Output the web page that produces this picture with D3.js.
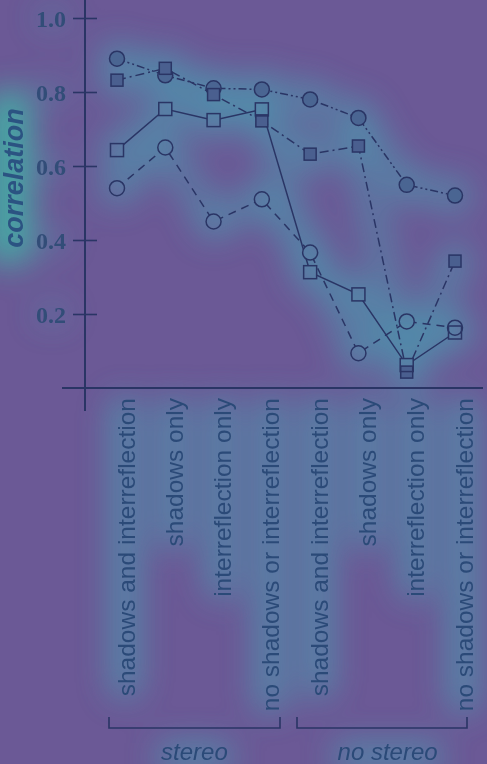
<!DOCTYPE html>
<html>
<head>
<meta charset="utf-8">
<script src="https://cdn.jsdelivr.net/npm/d3@7"></script>
<style>
html,body{margin:0;padding:0;background:#6b5996;}
svg{display:block;}
</style>
</head>
<body>
<script>
const categories = [
  "shadows and interreflection","shadows only","interreflection only","no shadows or interreflection",
  "shadows and interreflection ","shadows only ","interreflection only ","no shadows or interreflection "
];
const filledCircles = [0.89, 0.845, 0.81, 0.807, 0.78, 0.73, 0.549, 0.52];
const filledSquares = [0.832, 0.864, 0.793, 0.722, 0.632, 0.654, 0.043, 0.343];
const openSquares   = [0.643, 0.754, 0.724, 0.753, 0.313, 0.253, 0.062, 0.15];
const openCircles   = [0.54, 0.65, 0.45, 0.51, 0.366, 0.094, 0.18, 0.163];
const yTicks = [0.2, 0.4, 0.6, 0.8, 1.0];
const groups = [
  {label:"stereo", from:0, to:3},
  {label:"no stereo", from:4, to:7}
];
const series = [
  {name:"fc", values:filledCircles, shape:"circle", filled:true,  dash:"8,3,2,3,2,3"},
  {name:"oc", values:openCircles,   shape:"circle", filled:false, dash:"8,6"},
  {name:"fs", values:filledSquares, shape:"square", filled:true,  dash:"9,4,2,4"},
  {name:"os", values:openSquares,   shape:"square", filled:false, dash:null}
];

const W = 487, H = 764;
const ink = "#2a3565";
const textInk = "#2b4a78";
const glowColor = "#4f94ae";
const bg = "#6b5996";

const svg = d3.select("body").append("svg").attr("width", W).attr("height", H);
const defs = svg.append("defs");

const x = d3.scalePoint().domain(categories).range([117, 455]);
const y = d3.scaleLinear().domain([0, 1]).range([388, 18]);

const flt = defs.append("filter").attr("id","glow").attr("filterUnits","userSpaceOnUse")
  .attr("x",-60).attr("y",-60).attr("width",W+120).attr("height",H+120);
flt.append("feGaussianBlur").attr("stdDeviation", 16);

svg.append("rect").attr("width",W).attr("height",H).attr("fill",bg);

const glow = svg.append("g").attr("filter","url(#glow)").attr("opacity",0.9);

// ---------- axes ----------
svg.append("line").attr("x1",85).attr("x2",85).attr("y1",0).attr("y2",411)
  .attr("stroke",ink).attr("stroke-width",2);
svg.append("line").attr("x1",62).attr("x2",483).attr("y1",y(0)).attr("y2",y(0))
  .attr("stroke",ink).attr("stroke-width",2.2);
const yAxis = d3.axisLeft(y).tickValues(yTicks).tickSize(0).tickFormat(d3.format(".1f"));
const ya = svg.append("g").attr("transform","translate(85,0)").call(yAxis);
ya.select(".domain").remove();
ya.selectAll(".tick").append("line").attr("x1",-12).attr("x2",12).attr("stroke",ink).attr("stroke-width",1.6);
ya.selectAll(".tick text").attr("x",-19).attr("dy","0.35em")
  .style("font-family","'Liberation Serif', 'Times New Roman', serif").style("font-size","24px").style("font-weight","bold")
  .attr("fill","#324d78");

svg.append("text").attr("transform","translate(23,178) rotate(-90)")
  .attr("text-anchor","middle").style("font-family","'Liberation Sans', Arial, sans-serif")
  .style("font-size","27px").style("font-weight","bold").style("font-style","italic")
  .attr("fill","#2b5382").text("correlation");

// x labels
const xAxis = d3.axisBottom(x).tickSize(0);
const xa = svg.append("g").attr("transform",`translate(0,${y(0)})`).call(xAxis);
xa.select(".domain").remove();
xa.selectAll(".tick text")
  .attr("transform","translate(17,10) rotate(-90)")
  .attr("x",0).attr("y",0).attr("dy",0)
  .attr("text-anchor","end")
  .style("font-family","'Liberation Sans', Arial, sans-serif").style("font-size","24.5px")
  .attr("fill",textInk)
  .text(d=>d.trim());

// brackets
const mid = (x(categories[3]) + x(categories[4])) / 2;
const bracketLabels = [];
groups.forEach((g,gi)=>{
  const x0 = gi === 0 ? x(categories[g.from]) - 8 : mid + 11;
  const x1 = gi === 0 ? mid - 6 : x(categories[g.to]) + 12;
  svg.append("path").attr("d",`M${x0},717V728H${x1}V717`).attr("fill","none")
    .attr("stroke",ink).attr("stroke-width",1.6);
  const cx = (x(categories[g.from]) + x(categories[g.to]))/2 + 5;
  const t = svg.append("text").attr("x",cx).attr("y",760).attr("text-anchor","middle")
    .style("font-family","'Liberation Sans', Arial, sans-serif").style("font-size","24px").style("font-style","italic")
    .attr("fill",textInk).text(g.label);
  bracketLabels.push({t, cx});
});

// ---------- glow content ----------
const line = d3.line().x((d,i)=>x(categories[i])).y(d=>y(d));
series.forEach(s=>{
  glow.append("path").attr("d", line(s.values)).attr("fill","none")
    .attr("stroke", glowColor).attr("stroke-width", 28).attr("stroke-opacity",0.65)
    .attr("stroke-linejoin","round");
  s.values.forEach((v,i)=>{
    glow.append("circle").attr("cx", x(categories[i])).attr("cy", y(v)).attr("r", 18)
      .attr("fill", glowColor).attr("opacity",0.7);
  });
});
xa.selectAll(".tick text").each(function(d){
  const len = this.getComputedTextLength();
  glow.append("rect").attr("x", x(d)-8).attr("y", 396).attr("width", 32).attr("height", len+4)
    .attr("rx",12).attr("fill", glowColor).attr("opacity",0.85);
});
glow.append("rect").attr("x",-14).attr("y",90).attr("width",46).attr("height",175).attr("rx",16)
  .attr("fill","#42b0a6");
ya.selectAll(".tick text").each(function(d){
  glow.append("rect").attr("x",36).attr("y",y(d)-10).attr("width",32).attr("height",20)
    .attr("fill",glowColor).attr("opacity",0.5);
});
bracketLabels.forEach(b=>{
  const len = b.t.node().getComputedTextLength();
  glow.append("rect").attr("x",b.cx-len/2-4).attr("y",742).attr("width",len+8).attr("height",30)
    .attr("fill",glowColor).attr("opacity",0.85);
});

// ---------- data ----------
const cr = 7.5, sq = 13;
const mask = defs.append("mask").attr("id","mk").attr("maskUnits","userSpaceOnUse")
  .attr("x",0).attr("y",0).attr("width",W).attr("height",H);
mask.append("rect").attr("width",W).attr("height",H).attr("fill","white");
series.filter(s=>!s.filled).forEach(s=>{
  s.values.forEach((v,i)=>{
    if (s.shape==="circle") mask.append("circle").attr("cx",x(categories[i])).attr("cy",y(v)).attr("r",cr).attr("fill","black");
    else mask.append("rect").attr("x",x(categories[i])-sq/2).attr("y",y(v)-sq/2).attr("width",sq).attr("height",sq).attr("fill","black");
  });
});
const linesG = svg.append("g").attr("mask","url(#mk)");
series.forEach(s=>{
  linesG.append("path").attr("d",line(s.values)).attr("fill","none")
    .attr("stroke",ink).attr("stroke-width",1.5)
    .attr("stroke-dasharray", s.dash);
});
const markG = svg.append("g");
series.forEach(s=>{
  s.values.forEach((v,i)=>{
    const cx = x(categories[i]), cy = y(v);
    if (s.shape==="circle") {
      markG.append("circle").attr("cx",cx).attr("cy",cy).attr("r",cr)
        .attr("fill", s.filled ? "#4a6592" : "none").attr("stroke",ink).attr("stroke-width",1.5);
    } else {
      const side = s.filled ? 12 : sq;
      markG.append("rect").attr("x",cx-side/2).attr("y",cy-side/2).attr("width",side).attr("height",side)
        .attr("fill", s.filled ? "#4a5f8f" : "none").attr("stroke",ink).attr("stroke-width",1.5);
    }
  });
});
</script>
</body>
</html>
